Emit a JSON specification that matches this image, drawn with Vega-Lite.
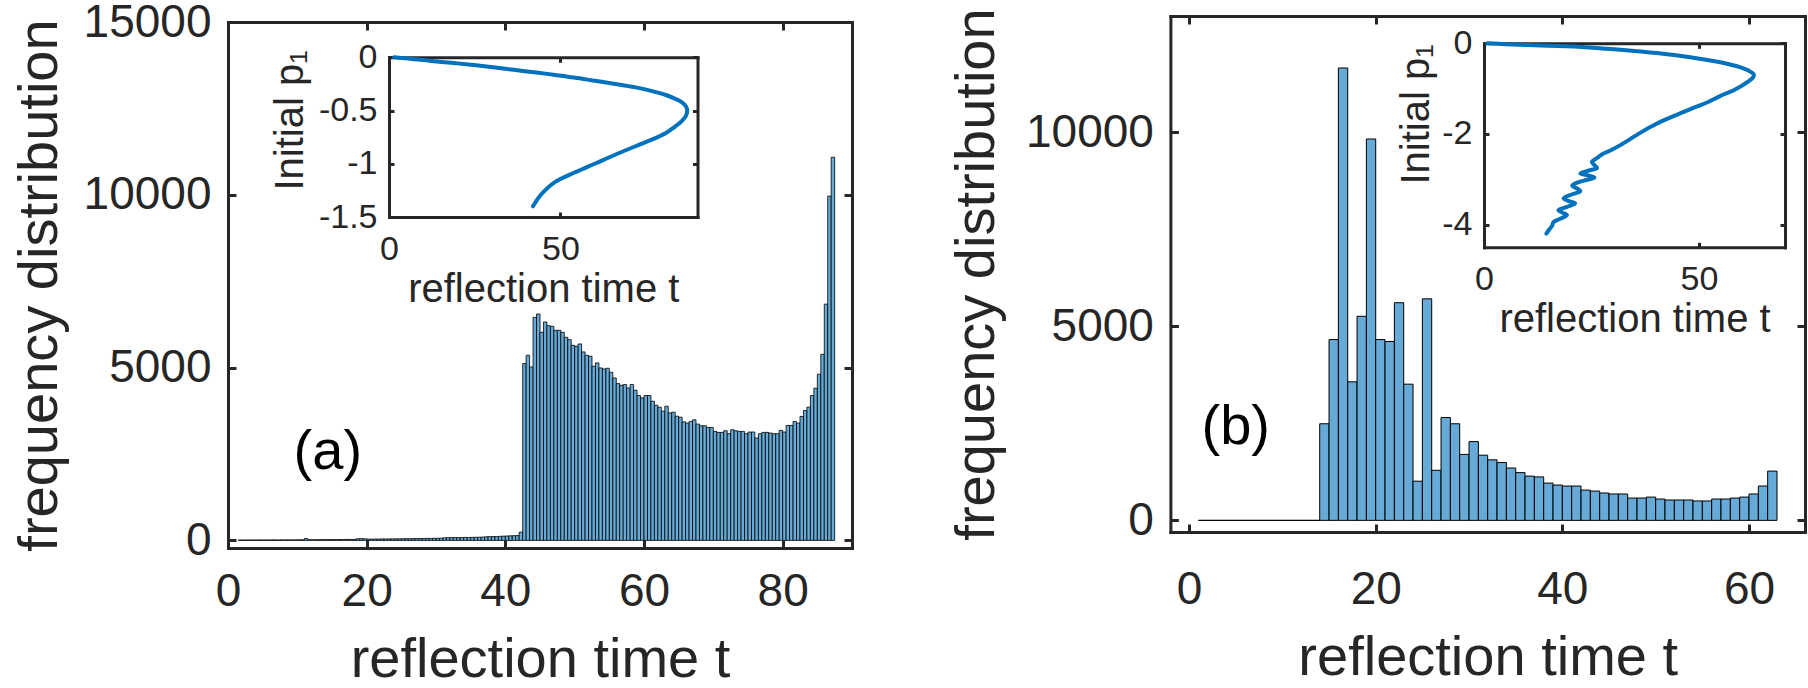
{
  "$schema": "https://vega.github.io/schema/vega-lite/v6.json",
  "width": 1808,
  "height": 688,
  "autosize": {"type": "none"},
  "padding": 0,
  "background": "white",
  "config": {
    "font": "Liberation Sans",
    "view": {"stroke": null},
    "axis": {
      "grid": false, "labelFlush": false, "labelOverlap": false, "labelBound": false,
      "labelColor": "#262626", "titleColor": "#262626", "domainColor": "#262626", "tickColor": "#262626",
      "domainWidth": 3, "tickWidth": 3, "domainCap": "square", "titleFontWeight": "normal"
    }
  },
  "datasets": {
    "histA": [
      {"t0":1.5,"t1":2,"n":12},{"t0":2,"t1":2.5,"n":10},{"t0":2.5,"t1":3,"n":14},{"t0":3,"t1":3.5,"n":11},{"t0":3.5,"t1":4,"n":13},
      {"t0":4,"t1":4.5,"n":12},{"t0":4.5,"t1":5,"n":15},{"t0":5,"t1":5.5,"n":12},{"t0":5.5,"t1":6,"n":14},{"t0":6,"t1":6.5,"n":13},
      {"t0":6.5,"t1":7,"n":16},{"t0":7,"t1":7.5,"n":12},{"t0":7.5,"t1":8,"n":15},{"t0":8,"t1":8.5,"n":14},{"t0":8.5,"t1":9,"n":17},
      {"t0":9,"t1":9.5,"n":15},{"t0":9.5,"t1":10,"n":16},{"t0":10,"t1":10.5,"n":18},{"t0":10.5,"t1":11,"n":17},{"t0":11,"t1":11.5,"n":55},
      {"t0":11.5,"t1":12,"n":19},{"t0":12,"t1":12.5,"n":20},{"t0":12.5,"t1":13,"n":18},{"t0":13,"t1":13.5,"n":22},{"t0":13.5,"t1":14,"n":21},
      {"t0":14,"t1":14.5,"n":23},{"t0":14.5,"t1":15,"n":22},{"t0":15,"t1":15.5,"n":25},{"t0":15.5,"t1":16,"n":24},{"t0":16,"t1":16.5,"n":26},
      {"t0":16.5,"t1":17,"n":25},{"t0":17,"t1":17.5,"n":28},{"t0":17.5,"t1":18,"n":27},{"t0":18,"t1":18.5,"n":30},{"t0":18.5,"t1":19,"n":48},
      {"t0":19,"t1":19.5,"n":52},{"t0":19.5,"t1":20,"n":45},{"t0":20,"t1":20.5,"n":38},{"t0":20.5,"t1":21,"n":36},{"t0":21,"t1":21.5,"n":40},
      {"t0":21.5,"t1":22,"n":38},{"t0":22,"t1":22.5,"n":42},{"t0":22.5,"t1":23,"n":41},{"t0":23,"t1":23.5,"n":44},{"t0":23.5,"t1":24,"n":43},
      {"t0":24,"t1":24.5,"n":46},{"t0":24.5,"t1":25,"n":45},{"t0":25,"t1":25.5,"n":48},{"t0":25.5,"t1":26,"n":50},{"t0":26,"t1":26.5,"n":49},
      {"t0":26.5,"t1":27,"n":52},{"t0":27,"t1":27.5,"n":54},{"t0":27.5,"t1":28,"n":53},{"t0":28,"t1":28.5,"n":56},{"t0":28.5,"t1":29,"n":58},
      {"t0":29,"t1":29.5,"n":57},{"t0":29.5,"t1":30,"n":60},{"t0":30,"t1":30.5,"n":62},{"t0":30.5,"t1":31,"n":64},{"t0":31,"t1":31.5,"n":75},
      {"t0":31.5,"t1":32,"n":78},{"t0":32,"t1":32.5,"n":80},{"t0":32.5,"t1":33,"n":82},{"t0":33,"t1":33.5,"n":79},{"t0":33.5,"t1":34,"n":84},
      {"t0":34,"t1":34.5,"n":86},{"t0":34.5,"t1":35,"n":85},{"t0":35,"t1":35.5,"n":88},{"t0":35.5,"t1":36,"n":90},{"t0":36,"t1":36.5,"n":92},
      {"t0":36.5,"t1":37,"n":95},{"t0":37,"t1":37.5,"n":105},{"t0":37.5,"t1":38,"n":108},{"t0":38,"t1":38.5,"n":112},{"t0":38.5,"t1":39,"n":110},
      {"t0":39,"t1":39.5,"n":118},{"t0":39.5,"t1":40,"n":122},{"t0":40,"t1":40.5,"n":128},{"t0":40.5,"t1":41,"n":132},{"t0":41,"t1":41.5,"n":136},
      {"t0":41.5,"t1":42,"n":140},{"t0":42,"t1":42.5,"n":241},
      {"t0":42.5,"t1":43,"n":5116},{"t0":43,"t1":43.5,"n":5356},{"t0":43.5,"t1":44,"n":5019},{"t0":44,"t1":44.5,"n":6455},{"t0":44.5,"t1":45,"n":6551},
      {"t0":45,"t1":45.5,"n":6021},{"t0":45.5,"t1":46,"n":6320},{"t0":46,"t1":46.5,"n":6214},{"t0":46.5,"t1":47,"n":6195},{"t0":47,"t1":47.5,"n":6079},
      {"t0":47.5,"t1":48,"n":6079},{"t0":48,"t1":48.5,"n":6021},{"t0":48.5,"t1":49,"n":5877},{"t0":49,"t1":49.5,"n":5809},{"t0":49.5,"t1":50,"n":5645},
      {"t0":50,"t1":50.5,"n":5617},{"t0":50.5,"t1":51,"n":5684},{"t0":51,"t1":51.5,"n":5453},{"t0":51.5,"t1":52,"n":5356},{"t0":52,"t1":52.5,"n":5328},
      {"t0":52.5,"t1":53,"n":5039},{"t0":53,"t1":53.5,"n":5135},{"t0":53.5,"t1":54,"n":4990},{"t0":54,"t1":54.5,"n":4961},{"t0":54.5,"t1":55,"n":4981},
      {"t0":55,"t1":55.5,"n":4865},{"t0":55.5,"t1":56,"n":4701},{"t0":56,"t1":56.5,"n":4538},{"t0":56.5,"t1":57,"n":4489},{"t0":57,"t1":57.5,"n":4509},
      {"t0":57.5,"t1":58,"n":4412},{"t0":58,"t1":58.5,"n":4509},{"t0":58.5,"t1":59,"n":4345},{"t0":59,"t1":59.5,"n":4191},{"t0":59.5,"t1":60,"n":4123},
      {"t0":60,"t1":60.5,"n":4191},{"t0":60.5,"t1":61,"n":4191},{"t0":61,"t1":61.5,"n":4027},{"t0":61.5,"t1":62,"n":3911},{"t0":62,"t1":62.5,"n":3854},
      {"t0":62.5,"t1":63,"n":3738},{"t0":63,"t1":63.5,"n":3882},{"t0":63.5,"t1":64,"n":3690},{"t0":64,"t1":64.5,"n":3709},{"t0":64.5,"t1":65,"n":3593},
      {"t0":65,"t1":65.5,"n":3565},{"t0":65.5,"t1":66,"n":3430},{"t0":66,"t1":66.5,"n":3394},{"t0":66.5,"t1":67,"n":3442},{"t0":67,"t1":67.5,"n":3490},
      {"t0":67.5,"t1":68,"n":3365},{"t0":68,"t1":68.5,"n":3317},{"t0":68.5,"t1":69,"n":3317},{"t0":69,"t1":69.5,"n":3269},{"t0":69.5,"t1":70,"n":3269},
      {"t0":70,"t1":70.5,"n":3154},{"t0":70.5,"t1":71,"n":3125},{"t0":71,"t1":71.5,"n":3125},{"t0":71.5,"t1":72,"n":3173},{"t0":72,"t1":72.5,"n":3087},
      {"t0":72.5,"t1":73,"n":3202},{"t0":73,"t1":73.5,"n":3173},{"t0":73.5,"t1":74,"n":3154},{"t0":74,"t1":74.5,"n":3154},{"t0":74.5,"t1":75,"n":3087},
      {"t0":75,"t1":75.5,"n":3135},{"t0":75.5,"t1":76,"n":3135},{"t0":76,"t1":76.5,"n":2962},{"t0":76.5,"t1":77,"n":3087},{"t0":77,"t1":77.5,"n":3125},
      {"t0":77.5,"t1":78,"n":3125},{"t0":78,"t1":78.5,"n":3106},{"t0":78.5,"t1":79,"n":3087},{"t0":79,"t1":79.5,"n":3087},{"t0":79.5,"t1":80,"n":3183},
      {"t0":80,"t1":80.5,"n":3135},{"t0":80.5,"t1":81,"n":3327},{"t0":81,"t1":81.5,"n":3327},{"t0":81.5,"t1":82,"n":3442},{"t0":82,"t1":82.5,"n":3394},
      {"t0":82.5,"t1":83,"n":3587},{"t0":83,"t1":83.5,"n":3760},{"t0":83.5,"t1":84,"n":3856},{"t0":84,"t1":84.5,"n":4192},{"t0":84.5,"t1":85,"n":4404},
      {"t0":85,"t1":85.5,"n":4808},{"t0":85.5,"t1":86,"n":5385},{"t0":86,"t1":86.5,"n":6837},{"t0":86.5,"t1":87,"n":9962},{"t0":87,"t1":87.5,"n":11087}
    ],
    "histB": [
      {"t0":1,"t1":2,"n":0},{"t0":2,"t1":3,"n":0},{"t0":3,"t1":4,"n":0},{"t0":4,"t1":5,"n":0},{"t0":5,"t1":6,"n":0},
      {"t0":6,"t1":7,"n":0},{"t0":7,"t1":8,"n":0},{"t0":8,"t1":9,"n":0},{"t0":9,"t1":10,"n":0},{"t0":10,"t1":11,"n":0},
      {"t0":11,"t1":12,"n":0},{"t0":12,"t1":13,"n":0},{"t0":13,"t1":14,"n":0},
      {"t0":14,"t1":15,"n":2490},{"t0":15,"t1":16,"n":4660},{"t0":16,"t1":17,"n":11660},{"t0":17,"t1":18,"n":3570},{"t0":18,"t1":19,"n":5260},
      {"t0":19,"t1":20,"n":9830},{"t0":20,"t1":21,"n":4660},{"t0":21,"t1":22,"n":4610},{"t0":22,"t1":23,"n":5610},{"t0":23,"t1":24,"n":3510},
      {"t0":24,"t1":25,"n":1010},{"t0":25,"t1":26,"n":5710},{"t0":26,"t1":27,"n":1290},{"t0":27,"t1":28,"n":2650},{"t0":28,"t1":29,"n":2490},
      {"t0":29,"t1":30,"n":1700},{"t0":30,"t1":31,"n":2030},{"t0":31,"t1":32,"n":1680},{"t0":32,"t1":33,"n":1560},{"t0":33,"t1":34,"n":1490},
      {"t0":34,"t1":35,"n":1350},{"t0":35,"t1":36,"n":1230},{"t0":36,"t1":37,"n":1140},{"t0":37,"t1":38,"n":1120},{"t0":38,"t1":39,"n":960},
      {"t0":39,"t1":40,"n":910},{"t0":40,"t1":41,"n":885},{"t0":41,"t1":42,"n":885},{"t0":42,"t1":43,"n":780},{"t0":43,"t1":44,"n":755},
      {"t0":44,"t1":45,"n":705},{"t0":45,"t1":46,"n":680},{"t0":46,"t1":47,"n":680},{"t0":47,"t1":48,"n":575},{"t0":48,"t1":49,"n":575},
      {"t0":49,"t1":50,"n":600},{"t0":50,"t1":51,"n":550},{"t0":51,"t1":52,"n":525},{"t0":52,"t1":53,"n":525},{"t0":53,"t1":54,"n":525},
      {"t0":54,"t1":55,"n":500},{"t0":55,"t1":56,"n":500},{"t0":56,"t1":57,"n":550},{"t0":57,"t1":58,"n":550},{"t0":58,"t1":59,"n":575},
      {"t0":59,"t1":60,"n":600},{"t0":60,"t1":61,"n":680},{"t0":61,"t1":62,"n":885},{"t0":62,"t1":63,"n":1270}
    ],
    "curveA": [
      {"i":0,"t":1.5,"p":0},{"i":1,"t":5,"p":-0.01},{"i":2,"t":10,"p":-0.025},{"i":3,"t":14,"p":-0.04},{"i":4,"t":20,"p":-0.057},
      {"i":5,"t":25.4,"p":-0.075},{"i":6,"t":31,"p":-0.095},{"i":7,"t":37,"p":-0.12},{"i":8,"t":43,"p":-0.143},{"i":9,"t":48.5,"p":-0.166},
      {"i":10,"t":54,"p":-0.19},{"i":11,"t":60,"p":-0.22},{"i":12,"t":66,"p":-0.25},{"i":13,"t":71.6,"p":-0.28},{"i":14,"t":76.5,"p":-0.315},
      {"i":15,"t":80.8,"p":-0.354},{"i":16,"t":83.5,"p":-0.39},{"i":17,"t":85.4,"p":-0.42},{"i":18,"t":86.6,"p":-0.46},{"i":19,"t":87,"p":-0.5},
      {"i":20,"t":86.6,"p":-0.55},{"i":21,"t":85.4,"p":-0.6},{"i":22,"t":83.3,"p":-0.655},{"i":23,"t":80.8,"p":-0.71},{"i":24,"t":76.5,"p":-0.775},
      {"i":25,"t":71.6,"p":-0.84},{"i":26,"t":66,"p":-0.915},{"i":27,"t":60,"p":-1.0},{"i":28,"t":54.3,"p":-1.08},{"i":29,"t":48.5,"p":-1.17},
      {"i":30,"t":45.5,"p":-1.25},{"i":31,"t":43.6,"p":-1.32},{"i":32,"t":42,"p":-1.4}
    ],
    "curveB": [
      {"i":0,"t":0.8,"p":0},{"i":1,"t":5,"p":-0.02},{"i":2,"t":10,"p":-0.04},{"i":3,"t":15,"p":-0.055},{"i":4,"t":20.8,"p":-0.07},
      {"i":5,"t":28.6,"p":-0.12},{"i":6,"t":36.4,"p":-0.18},{"i":7,"t":44.2,"p":-0.26},{"i":8,"t":52,"p":-0.37},{"i":9,"t":56,"p":-0.44},
      {"i":10,"t":59.3,"p":-0.52},{"i":11,"t":61.5,"p":-0.6},{"i":12,"t":62.7,"p":-0.68},{"i":13,"t":62.6,"p":-0.75},{"i":14,"t":61.5,"p":-0.84},
      {"i":15,"t":58.2,"p":-1.03},{"i":16,"t":55,"p":-1.16},{"i":17,"t":52,"p":-1.3},{"i":18,"t":48,"p":-1.45},{"i":19,"t":44.2,"p":-1.6},
      {"i":20,"t":40,"p":-1.78},{"i":21,"t":36.4,"p":-1.97},{"i":22,"t":32,"p":-2.23},{"i":23,"t":29.5,"p":-2.36},{"i":24,"t":27.6,"p":-2.44},
      {"i":25,"t":26.3,"p":-2.53},{"i":26,"t":25.1,"p":-2.62},{"i":27,"t":25.7,"p":-2.69},{"i":28,"t":26.3,"p":-2.75},{"i":29,"t":24.3,"p":-2.81},
      {"i":30,"t":22.4,"p":-2.87},{"i":31,"t":24,"p":-2.91},{"i":32,"t":25.7,"p":-2.96},{"i":33,"t":24,"p":-3.01},{"i":34,"t":21.2,"p":-3.09},
      {"i":35,"t":20.5,"p":-3.14},{"i":36,"t":21.6,"p":-3.2},{"i":37,"t":22.4,"p":-3.26},{"i":38,"t":20.5,"p":-3.33},{"i":39,"t":18.5,"p":-3.42},
      {"i":40,"t":19.7,"p":-3.48},{"i":41,"t":21.2,"p":-3.53},{"i":42,"t":19.3,"p":-3.61},{"i":43,"t":17.3,"p":-3.68},{"i":44,"t":18.1,"p":-3.73},
      {"i":45,"t":19.3,"p":-3.79},{"i":46,"t":17.7,"p":-3.87},{"i":47,"t":16.2,"p":-3.94},{"i":48,"t":15.8,"p":-4.03},{"i":49,"t":15,"p":-4.13},
      {"i":50,"t":14.5,"p":-4.2}
    ]
  },
  "layer": [
    {
      "layer": [
        {
          "data": {"name": "histA"},
          "mark": {"type": "bar", "fill": "#66AAD7", "stroke": "#000000", "strokeWidth": 0.8},
          "encoding": {
            "x": {"field": "t0", "type": "quantitative",
              "scale": {"domain": [0, 90], "range": [228, 852], "nice": false, "zero": false},
              "axis": {"orient": "bottom", "offset": -140, "values": [0, 20, 40, 60, 80], "domain": false, "ticks": false, "labelPadding": 21, "labelFontSize": 46, "format": "d", "title": "reflection time t", "titleFontSize": 56, "titlePadding": 18}},
            "x2": {"field": "t1"},
            "y": {"field": "n", "type": "quantitative",
              "scale": {"domain": [-220, 15000], "range": [548, 22], "nice": false, "zero": false},
              "axis": {"orient": "left", "offset": -228, "values": [0, 5000, 10000, 15000], "domain": false, "ticks": false, "labelPadding": 17, "labelFontSize": 46, "format": "d", "title": "frequency distribution", "titleFontSize": 56, "titlePadding": 15}},
            "y2": {"datum": 0}
          }
        },
        {
          "data": {"name": "histA"},
          "mark": {"type": "point", "opacity": 0},
          "encoding": {
            "x": {"field": "t0", "type": "quantitative", "axis": {"orient": "top", "offset": -548, "values": [0, 20, 40, 60, 80], "labels": false, "title": null, "tickSize": 8}},
            "y": {"field": "n", "type": "quantitative", "axis": {"orient": "right", "offset": -1580, "values": [0, 5000, 10000, 15000], "labels": false, "title": null, "tickSize": 8}}
          }
        },
        {
          "data": {"name": "histA"},
          "mark": {"type": "point", "opacity": 0},
          "encoding": {
            "x": {"field": "t0", "type": "quantitative", "axis": {"orient": "bottom", "offset": -666, "values": [0, 20, 40, 60, 80], "labels": false, "title": null, "tickSize": 8}},
            "y": {"field": "n", "type": "quantitative", "axis": {"orient": "left", "offset": -852, "values": [0, 5000, 10000, 15000], "labels": false, "title": null, "tickSize": 8}}
          }
        },
        {
          "data": {"values": [{}]},
          "mark": {"type": "text", "fontSize": 56, "color": "#000000"},
          "encoding": {
            "x": {"datum": 14.4, "type": "quantitative", "axis": null},
            "y": {"datum": 2550, "type": "quantitative", "axis": null},
            "text": {"value": "(a)"}
          }
        }
      ],
      "resolve": {"axis": {"x": "independent", "y": "independent"}}
    },
    {
      "layer": [
        {
          "data": {"name": "curveA"},
          "mark": {"type": "line", "color": "#0072BD", "strokeWidth": 4, "strokeCap": "round", "interpolate": "catmull-rom"},
          "encoding": {
            "x": {"field": "t", "type": "quantitative",
              "scale": {"domain": [0, 90], "range": [389, 697.5], "nice": false, "zero": false},
              "axis": {"orient": "bottom", "offset": -471, "values": [0, 50], "domain": false, "ticks": false, "labelPadding": 15, "labelFontSize": 34, "format": "d", "title": "reflection time t", "titleFontSize": 40, "titlePadding": 3}},
            "y": {"field": "p", "type": "quantitative",
              "scale": {"domain": [-1.5, 0], "range": [217, 57.3], "nice": false, "zero": false},
              "axis": {"orient": "left", "offset": -389, "values": [0, -0.5, -1, -1.5], "domain": false, "ticks": false, "labelPadding": 12, "labelFontSize": 34, "labelExpr": "datum.value == 0 ? '0' : '-' + format(-datum.value, '~g')", "title": "Initial p₁", "titleFontSize": 40, "titlePadding": 8, "titleY": 120}},
            "order": {"field": "i", "type": "quantitative"}
          }
        },
        {
          "data": {"name": "curveA"},
          "mark": {"type": "point", "opacity": 0},
          "encoding": {
            "x": {"field": "t", "type": "quantitative", "axis": {"orient": "top", "offset": -217, "values": [0, 50], "labels": false, "title": null, "tickSize": 5}},
            "y": {"field": "p", "type": "quantitative", "axis": {"orient": "right", "offset": -1419, "values": [0, -0.5, -1, -1.5], "labels": false, "title": null, "tickSize": 5}}
          }
        },
        {
          "data": {"name": "curveA"},
          "mark": {"type": "point", "opacity": 0},
          "encoding": {
            "x": {"field": "t", "type": "quantitative", "axis": {"orient": "bottom", "offset": -630.7, "values": [0, 50], "labels": false, "title": null, "tickSize": 5}},
            "y": {"field": "p", "type": "quantitative", "axis": {"orient": "left", "offset": -697.5, "values": [0, -0.5, -1, -1.5], "labels": false, "title": null, "tickSize": 5}}
          }
        }
      ],
      "resolve": {"axis": {"x": "independent", "y": "independent"}}
    },
    {
      "layer": [
        {
          "data": {"name": "histB"},
          "mark": {"type": "bar", "fill": "#66AAD7", "stroke": "#000000", "strokeWidth": 1},
          "encoding": {
            "x": {"field": "t0", "type": "quantitative",
              "scale": {"domain": [-2, 66], "range": [1170.4, 1805], "nice": false, "zero": false},
              "axis": {"orient": "bottom", "offset": -156, "values": [0, 20, 40, 60], "domain": false, "ticks": false, "labelPadding": 35, "labelFontSize": 46, "format": "d", "title": "reflection time t", "titleFontSize": 56, "titlePadding": 18}},
            "x2": {"field": "t1"},
            "y": {"field": "n", "type": "quantitative",
              "scale": {"domain": [-300, 13000], "range": [532, 16], "nice": false, "zero": false},
              "axis": {"orient": "left", "offset": -1170.4, "values": [0, 5000, 10000], "domain": false, "ticks": false, "labelPadding": 17, "labelFontSize": 46, "format": "d", "title": "frequency distribution", "titleFontSize": 56, "titlePadding": 20}},
            "y2": {"datum": 0}
          }
        },
        {
          "data": {"name": "histB"},
          "mark": {"type": "point", "opacity": 0},
          "encoding": {
            "x": {"field": "t0", "type": "quantitative", "axis": {"orient": "top", "offset": -532, "values": [0, 20, 40, 60], "labels": false, "title": null, "tickSize": 8}},
            "y": {"field": "n", "type": "quantitative", "axis": {"orient": "right", "offset": -637.6, "values": [0, 5000, 10000], "labels": false, "title": null, "tickSize": 8}}
          }
        },
        {
          "data": {"name": "histB"},
          "mark": {"type": "point", "opacity": 0},
          "encoding": {
            "x": {"field": "t0", "type": "quantitative", "axis": {"orient": "bottom", "offset": -672, "values": [0, 20, 40, 60], "labels": false, "title": null, "tickSize": 8}},
            "y": {"field": "n", "type": "quantitative", "axis": {"orient": "left", "offset": -1805, "values": [0, 5000, 10000], "labels": false, "title": null, "tickSize": 8}}
          }
        },
        {
          "data": {"values": [{}]},
          "mark": {"type": "text", "fontSize": 56, "color": "#000000"},
          "encoding": {
            "x": {"datum": 5, "type": "quantitative", "axis": null},
            "y": {"datum": 2400, "type": "quantitative", "axis": null},
            "text": {"value": "(b)"}
          }
        }
      ],
      "resolve": {"axis": {"x": "independent", "y": "independent"}}
    },
    {
      "layer": [
        {
          "data": {"name": "curveB"},
          "mark": {"type": "line", "color": "#0072BD", "strokeWidth": 4, "strokeCap": "round", "interpolate": "catmull-rom"},
          "encoding": {
            "x": {"field": "t", "type": "quantitative",
              "scale": {"domain": [0, 70], "range": [1484, 1785], "nice": false, "zero": false},
              "axis": {"orient": "bottom", "offset": -440.7, "values": [0, 50], "domain": false, "ticks": false, "labelPadding": 15, "labelFontSize": 34, "format": "d", "title": "reflection time t", "titleFontSize": 40, "titlePadding": 3}},
            "y": {"field": "p", "type": "quantitative",
              "scale": {"domain": [-4.5, 0], "range": [247.3, 43.3], "nice": false, "zero": false},
              "axis": {"orient": "left", "offset": -1484, "values": [0, -2, -4], "domain": false, "ticks": false, "labelPadding": 12, "labelFontSize": 34, "labelExpr": "datum.value == 0 ? '0' : '-' + format(-datum.value, '~g')", "title": "Initial p₁", "titleFontSize": 40, "titlePadding": 5, "titleY": 114}},
            "order": {"field": "i", "type": "quantitative"}
          }
        },
        {
          "data": {"name": "curveB"},
          "mark": {"type": "point", "opacity": 0},
          "encoding": {
            "x": {"field": "t", "type": "quantitative", "axis": {"orient": "top", "offset": -247.3, "values": [0, 50], "labels": false, "title": null, "tickSize": 5}},
            "y": {"field": "p", "type": "quantitative", "axis": {"orient": "right", "offset": -324, "values": [0, -2, -4], "labels": false, "title": null, "tickSize": 5}}
          }
        },
        {
          "data": {"name": "curveB"},
          "mark": {"type": "point", "opacity": 0},
          "encoding": {
            "x": {"field": "t", "type": "quantitative", "axis": {"orient": "bottom", "offset": -644.7, "values": [0, 50], "labels": false, "title": null, "tickSize": 5}},
            "y": {"field": "p", "type": "quantitative", "axis": {"orient": "left", "offset": -1785, "values": [0, -2, -4], "labels": false, "title": null, "tickSize": 5}}
          }
        }
      ],
      "resolve": {"axis": {"x": "independent", "y": "independent"}}
    }
  ],
  "resolve": {
    "scale": {"x": "independent", "y": "independent"},
    "axis": {"x": "independent", "y": "independent"}
  }
}
